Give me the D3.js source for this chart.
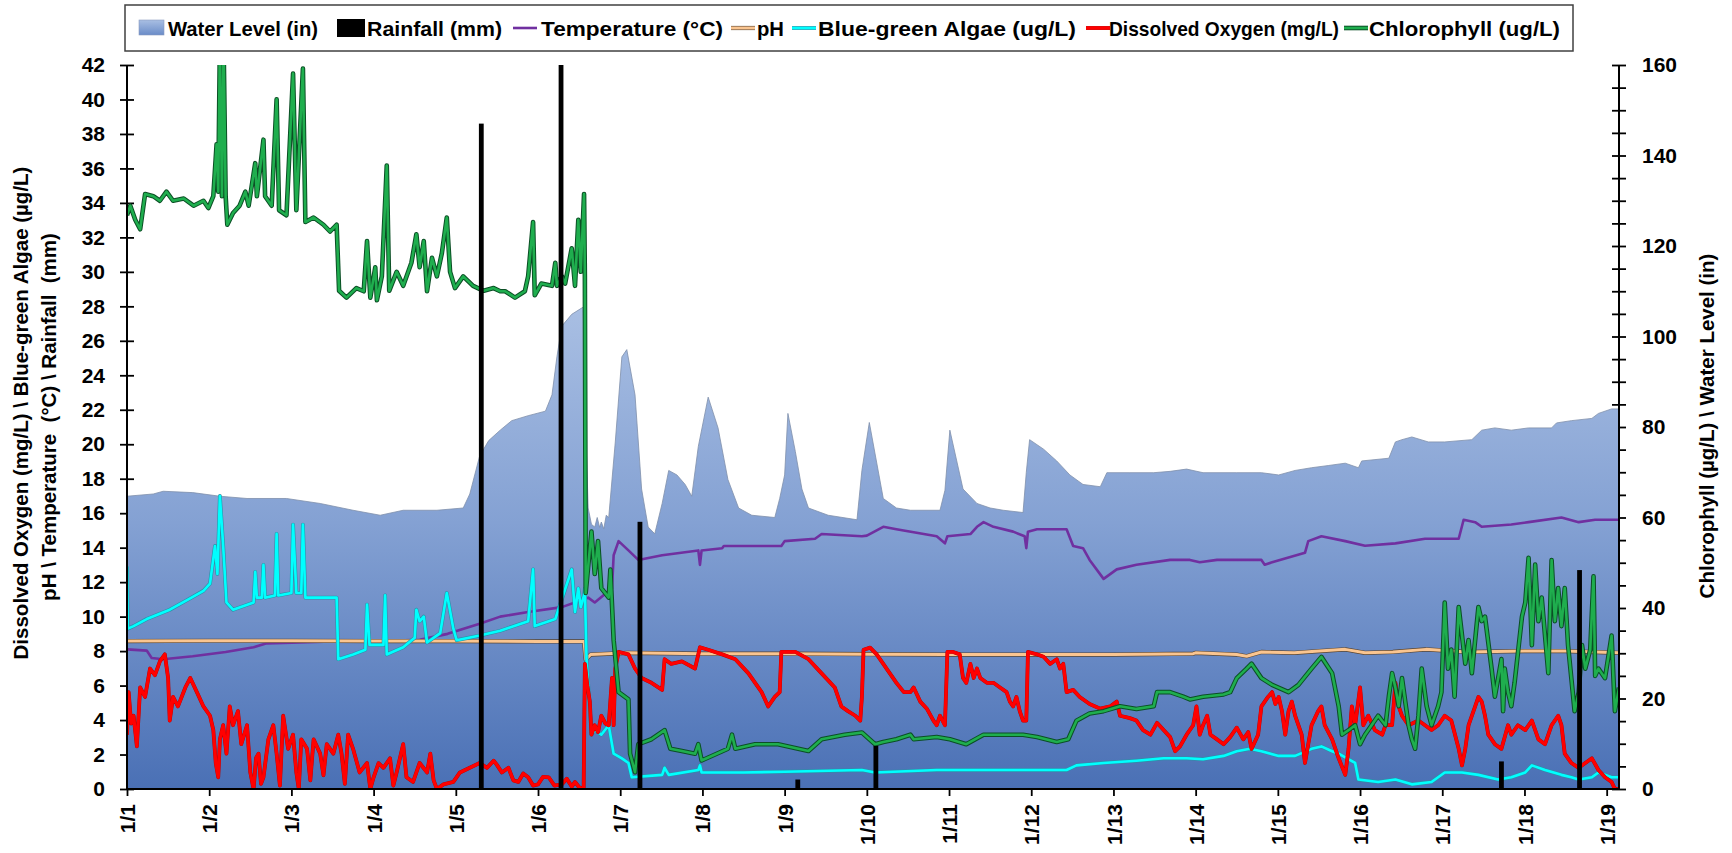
<!DOCTYPE html>
<html>
<head>
<meta charset="utf-8">
<script src="https://cdn.jsdelivr.net/npm/d3@7"></script>
<style>
  html, body { margin: 0; padding: 0; background: #fff; }
  svg { display: block; font-family: "Liberation Sans", Arial, sans-serif; font-weight: bold; }
</style>
</head>
<body>
<svg id="chart" width="1732" height="853"></svg>
<script>
// ---- Data: [day since 1/1, value] ----

// Water level (in), right axis
const waterLevel = [[0,64.7],[0.32,65.2],[0.44,65.8],[0.8,65.5],[1.13,64.7],[1.46,64.2],[1.94,64.2],[2.35,63.1],[2.75,61.6],[3.08,60.5],[3.36,61.6],[3.77,61.6],[4.09,62.1],[4.17,65.2],[4.29,73.6],[4.40,77],[4.54,79.3],[4.68,81.4],[4.88,82.5],[5.09,83.5],[5.17,87.1],[5.23,95.5],[5.29,102.3],[5.41,104.9],[5.55,106.5],[5.58,80],[5.61,62.1],[5.65,58.5],[5.69,57.9],[5.72,60],[5.75,57.8],[5.77,59],[5.80,57.5],[5.83,60.5],[5.86,60],[5.94,76.7],[6.02,95.5],[6.08,97.1],[6.18,87.1],[6.26,66.3],[6.34,57.9],[6.42,56.4],[6.51,63.1],[6.59,70.4],[6.69,69.4],[6.79,67.3],[6.87,64.7],[6.95,75.7],[7.07,86.6],[7.19,79.8],[7.31,68.4],[7.44,62.1],[7.60,60.5],[7.88,60],[7.94,64.2],[8.00,69.4],[8.04,83],[8.13,74.6],[8.21,66.3],[8.29,62.1],[8.53,60.5],[8.88,59.5],[8.94,70.4],[9.03,81],[9.20,64.2],[9.36,62.1],[9.53,61.6],[9.89,61.6],[9.95,66],[10.01,79.3],[10.17,66.3],[10.34,63.1],[10.50,62.1],[10.66,61.6],[10.90,61.1],[10.94,70],[10.98,77.2],[11.15,75.1],[11.31,72.5],[11.47,69.4],[11.63,67.3],[11.84,66.8],[11.92,69.9],[12.20,69.9],[12.49,69.9],[12.69,70.2],[12.89,70.7],[13.09,69.9],[13.50,69.9],[13.80,69.9],[14.01,69.4],[14.21,70.4],[14.41,71],[14.62,71.5],[14.82,72],[14.98,71],[15.02,72.5],[15.35,73.1],[15.43,76.7],[15.51,77.2],[15.63,77.8],[15.83,76.7],[16.03,76.7],[16.36,77.2],[16.48,79.3],[16.64,79.8],[16.84,79.3],[17.05,79.8],[17.33,79.8],[17.39,80.9],[17.57,81.4],[17.82,81.9],[17.90,83],[18.06,84],[18.15,84]];

// Rainfall (mm), left axis
const rainfall = [[4.31,38.6],[5.28,44],[6.24,15.5],[8.16,0.55],[9.11,2.5],[16.72,1.6],[17.67,12.7]];

// Temperature (°C), left axis
const temperature = [[0,8.1],[0.24,8.03],[0.30,7.6],[0.44,7.53],[0.8,7.7],[1.2,7.95],[1.54,8.22],[1.7,8.45],[2.5,8.56],[3.2,8.6],[3.56,8.65],[3.9,9.0],[4.29,9.59],[4.54,10.0],[4.88,10.27],[5.29,10.55],[5.61,11.1],[5.69,10.82],[5.90,11.64],[5.92,13.56],[5.98,14.38],[6.10,13.84],[6.22,13.29],[6.51,13.56],[6.95,13.84],[6.97,13.0],[6.99,13.84],[7.24,13.97],[7.26,14.1],[7.96,14.1],[8.00,14.38],[8.37,14.52],[8.45,14.79],[8.94,14.66],[9.0,14.7],[9.20,15.21],[9.36,15.07],[9.85,14.66],[9.95,14.25],[9.98,14.66],[10.26,14.79],[10.34,15.21],[10.42,15.48],[10.54,15.21],[10.78,14.93],[10.92,14.66],[10.94,13.97],[10.96,14.93],[11.07,15.07],[11.43,15.07],[11.51,14.1],[11.63,13.97],[11.71,13.29],[11.88,12.19],[12.04,12.74],[12.28,13.01],[12.69,13.29],[12.93,13.29],[13.05,13.15],[13.26,13.29],[13.80,13.29],[13.84,13.01],[13.93,13.15],[14.33,13.7],[14.37,14.38],[14.53,14.66],[14.82,14.38],[15.06,14.11],[15.43,14.25],[15.79,14.52],[16.20,14.52],[16.26,15.62],[16.40,15.48],[16.48,15.21],[16.84,15.34],[17.05,15.48],[17.45,15.75],[17.66,15.48],[17.86,15.62],[18.15,15.62]];

// pH, left axis
const pH = [[0,8.58],[1,8.6],[2,8.6],[3,8.58],[4,8.58],[5,8.56],[5.56,8.56],[5.58,7.5],[5.64,7.8],[6.1,7.9],[7,7.85],[8,7.85],[9,7.82],[10,7.8],[11,7.8],[12,7.8],[12.97,7.85],[13.0,7.9],[13.5,7.8],[13.62,7.7],[13.8,7.95],[14.2,7.9],[14.5,8.0],[14.82,8.1],[15.06,7.9],[15.4,7.95],[15.8,8.1],[16.3,7.95],[17.0,8.0],[17.5,8.0],[18.15,7.9]];

// Blue-green algae (ug/L), left axis
const blueGreenAlgae = [[0,12.9],[0.01,9.3],[0.08,9.45],[0.24,9.86],[0.52,10.4],[0.73,10.96],[0.93,11.5],[1.01,11.92],[1.07,14.1],[1.10,12.47],[1.13,17],[1.17,14.1],[1.21,10.82],[1.29,10.4],[1.54,10.82],[1.56,12.6],[1.58,11.1],[1.64,11.1],[1.66,13],[1.68,11.1],[1.80,11.23],[1.82,14.8],[1.84,11.23],[2.00,11.37],[2.02,15.34],[2.06,11.37],[2.12,11.37],[2.14,15.34],[2.17,11.1],[2.35,11.1],[2.55,11.1],[2.57,7.53],[2.75,7.8],[2.90,8.08],[2.92,10.7],[2.95,8.36],[3.12,8.36],[3.14,11.23],[3.16,7.8],[3.36,8.22],[3.50,8.77],[3.52,10.4],[3.56,9.73],[3.61,10],[3.65,8.5],[3.81,9.04],[3.89,11.37],[3.97,9.3],[4.01,8.63],[4.29,8.9],[4.54,9.18],[4.88,9.73],[4.94,12.74],[4.96,9.45],[5.21,9.86],[5.41,12.74],[5.45,10.27],[5.49,11.64],[5.52,10.55],[5.56,11.23],[5.57,11.64],[5.59,7.53],[5.65,3.15],[5.69,3.42],[5.77,3.15],[5.86,3.7],[5.92,2.05],[6.02,1.78],[6.10,1.51],[6.14,0.68],[6.51,0.82],[6.54,1.23],[6.59,0.82],[6.95,1.1],[6.97,1.37],[6.99,0.96],[7.5,0.96],[8.0,1.0],[8.94,1.1],[9.1,0.96],[9.85,1.1],[10.66,1.1],[11.43,1.1],[11.55,1.37],[11.88,1.51],[12.28,1.64],[12.61,1.78],[12.89,1.78],[13.09,1.73],[13.34,1.92],[13.50,2.19],[13.66,2.33],[13.80,2.19],[14.01,1.92],[14.21,1.92],[14.41,2.33],[14.53,2.47],[14.66,2.19],[14.74,2.05],[14.94,1.51],[14.98,0.55],[15.22,0.41],[15.43,0.55],[15.63,0.27],[15.87,0.41],[16.03,0.96],[16.24,0.96],[16.44,0.82],[16.68,0.55],[16.84,0.68],[17.01,0.96],[17.09,1.37],[17.25,1.1],[17.45,0.82],[17.57,0.68],[17.66,0.55],[17.82,0.68],[17.90,0.96],[18.06,0.68],[18.15,0.68]];

// Dissolved oxygen (mg/L), left axis
const dissolvedOxygen = [[0,3.15],[0.02,5.62],[0.05,3.8],[0.08,4.25],[0.12,2.47],[0.16,5.89],[0.22,5.34],[0.28,6.99],[0.34,6.6],[0.40,7.4],[0.46,7.81],[0.50,6.44],[0.52,3.97],[0.56,5.34],[0.62,4.79],[0.71,5.89],[0.77,6.44],[0.85,5.62],[0.93,4.79],[1.01,4.25],[1.05,3.42],[1.08,1.5],[1.11,0.68],[1.13,2.88],[1.17,3.7],[1.21,2.05],[1.25,4.79],[1.29,3.7],[1.35,4.52],[1.39,2.6],[1.46,3.7],[1.50,0.96],[1.54,0],[1.57,1.8],[1.60,2.05],[1.63,0.3],[1.66,0.68],[1.72,2.88],[1.78,3.7],[1.82,2.05],[1.86,0.2],[1.90,4.25],[1.96,2.33],[2.02,3.15],[2.06,0.96],[2.09,0],[2.12,2.88],[2.19,2.33],[2.23,0.5],[2.27,2.88],[2.35,2.05],[2.39,0.8],[2.43,2.6],[2.51,2.05],[2.57,3.15],[2.61,2.05],[2.65,0.3],[2.69,3.15],[2.75,2.33],[2.83,0.96],[2.92,1.51],[2.96,0],[3.00,0.68],[3.06,1.5],[3.12,1.23],[3.20,1.78],[3.24,0.2],[3.28,0.96],[3.36,2.6],[3.40,0.68],[3.48,0.41],[3.56,1.51],[3.65,0.96],[3.69,2.05],[3.73,0.5],[3.77,0],[3.85,0.27],[3.97,0.41],[4.05,0.96],[4.17,1.23],[4.29,1.51],[4.38,1.23],[4.46,1.64],[4.50,1.4],[4.56,0.96],[4.64,1.23],[4.70,0.5],[4.76,0.41],[4.82,0.9],[4.88,0.68],[4.94,0.2],[5.00,0.27],[5.06,0.7],[5.13,0.68],[5.20,0.2],[5.29,0.27],[5.35,0.6],[5.41,0.14],[5.45,0.41],[5.50,0.1],[5.555,0],[5.57,7.26],[5.60,6],[5.63,5.07],[5.65,3.15],[5.69,3.7],[5.73,3.3],[5.77,4.25],[5.82,3.8],[5.86,3.7],[5.90,6.44],[5.92,3.7],[5.94,6.99],[5.98,7.95],[6.10,7.81],[6.18,6.99],[6.26,6.44],[6.38,6.16],[6.51,5.75],[6.54,7.53],[6.62,7.26],[6.75,7.4],[6.91,6.99],[6.97,8.22],[7.07,8.08],[7.24,7.81],[7.40,7.53],[7.56,6.71],[7.72,5.62],[7.80,4.79],[7.88,5.34],[7.94,5.62],[7.96,7.95],[8.13,7.95],[8.29,7.53],[8.45,6.71],[8.61,5.89],[8.69,4.79],[8.77,4.52],[8.86,4.25],[8.92,3.97],[8.94,5.34],[8.96,8.08],[9.04,8.2],[9.12,7.81],[9.20,7.26],[9.28,6.71],[9.36,6.16],[9.45,5.62],[9.53,5.62],[9.57,5.89],[9.65,5.07],[9.73,4.66],[9.81,3.97],[9.85,3.7],[9.89,4.25],[9.95,3.7],[9.98,7.95],[10.05,7.95],[10.13,7.81],[10.17,6.44],[10.21,6.16],[10.26,7.26],[10.30,6.44],[10.34,6.99],[10.38,6.44],[10.46,6.16],[10.54,6.16],[10.62,5.89],[10.70,5.62],[10.74,5.07],[10.78,4.79],[10.82,5.34],[10.86,4.52],[10.90,3.97],[10.94,3.97],[10.96,7.95],[11.07,7.81],[11.15,7.67],[11.23,7.26],[11.31,7.53],[11.35,6.99],[11.39,7.26],[11.43,5.62],[11.51,5.75],[11.59,5.34],[11.71,4.93],[11.84,4.66],[11.96,4.79],[12.04,5.07],[12.08,4.25],[12.20,4.11],[12.28,3.97],[12.36,3.42],[12.45,3.15],[12.53,3.84],[12.61,3.42],[12.69,3.01],[12.75,2.19],[12.81,2.47],[12.89,3.15],[12.97,3.7],[13.01,4.79],[13.05,3.15],[13.09,3.7],[13.14,4.25],[13.18,3.15],[13.26,2.88],[13.34,2.6],[13.42,3.01],[13.50,3.56],[13.58,2.88],[13.64,3.3],[13.68,2.33],[13.76,3.15],[13.80,4.79],[13.88,5.34],[13.93,5.62],[13.97,4.93],[14.01,5.34],[14.05,4.52],[14.09,3.15],[14.13,4.52],[14.17,5.07],[14.21,4.25],[14.25,3.7],[14.29,3.15],[14.33,1.51],[14.41,3.7],[14.49,4.52],[14.53,4.79],[14.57,3.7],[14.66,2.88],[14.74,1.78],[14.82,0.82],[14.86,2.33],[14.90,4.79],[14.94,3.7],[15.00,5.89],[15.04,3.7],[15.10,4.25],[15.18,3.42],[15.27,3.15],[15.31,3.7],[15.39,3.7],[15.43,6.16],[15.47,4.79],[15.51,4.25],[15.59,3.7],[15.71,3.97],[15.79,3.7],[15.87,3.42],[15.95,3.7],[16.03,4.25],[16.11,3.97],[16.20,2.33],[16.24,1.37],[16.28,2.33],[16.32,3.7],[16.40,4.79],[16.44,5.34],[16.48,5.07],[16.52,4.25],[16.56,3.15],[16.64,2.6],[16.72,2.33],[16.80,3.7],[16.84,3.15],[16.92,3.7],[17.01,3.42],[17.09,3.97],[17.17,2.88],[17.25,2.6],[17.33,3.7],[17.41,4.25],[17.45,3.7],[17.49,2.05],[17.57,1.51],[17.66,1.23],[17.74,1.51],[17.82,1.78],[17.90,1.1],[17.98,0.68],[18.06,0.41],[18.10,0],[18.15,0]];

// Chlorophyll (ug/L), right axis
const chlorophyll = [[0,126.8],[0.04,128.9],[0.10,125.8],[0.16,123.7],[0.22,131.5],[0.32,131],[0.40,130],[0.48,132],[0.56,130],[0.69,130.5],[0.81,128.9],[0.93,130],[0.99,128.4],[1.05,131],[1.09,142.5],[1.11,132],[1.13,165],[1.155,131],[1.175,165],[1.20,131],[1.22,124.7],[1.29,127.3],[1.37,128.9],[1.44,132],[1.48,128.9],[1.56,138.3],[1.58,131],[1.66,143.5],[1.68,131],[1.76,128.9],[1.82,152.4],[1.85,127.9],[1.94,126.8],[2.02,158.1],[2.06,127.9],[2.14,159.2],[2.17,125.3],[2.27,126.3],[2.39,124.7],[2.47,123.2],[2.55,124.7],[2.58,110.1],[2.67,108.6],[2.79,110.7],[2.88,110],[2.92,121.1],[2.96,108.6],[3.02,115.3],[3.04,108],[3.10,113.3],[3.16,137.8],[3.19,110.1],[3.28,114.3],[3.36,111.2],[3.46,116.3],[3.52,122.6],[3.56,115.3],[3.61,121.1],[3.65,110],[3.71,117.4],[3.77,113.3],[3.83,118.4],[3.89,126.3],[3.93,114.3],[3.99,110.7],[4.09,113.3],[4.21,111.2],[4.34,110.1],[4.46,110.7],[4.54,110],[4.60,110],[4.72,108.6],[4.84,110],[4.88,113.3],[4.94,125.3],[4.96,109.1],[5.04,111.7],[5.17,111.2],[5.21,116.3],[5.23,111.2],[5.29,113.3],[5.33,111.7],[5.41,119.5],[5.45,111.2],[5.49,125.8],[5.52,114.3],[5.56,131.5],[5.57,113.3],[5.58,43.3],[5.65,56.9],[5.69,47.5],[5.73,54.8],[5.77,44.4],[5.86,42.3],[5.88,48.5],[5.92,32.9],[5.98,21.4],[6.10,19.8],[6.12,7.8],[6.18,3.7],[6.22,9.9],[6.38,11],[6.54,13],[6.61,8.9],[6.75,8.4],[6.91,7.8],[6.95,9.9],[6.99,6.3],[7.31,8.9],[7.36,12],[7.40,8.9],[7.64,9.9],[7.92,9.9],[8.29,8.4],[8.45,11],[8.73,12],[8.94,12.5],[9.10,9.9],[9.20,10.4],[9.36,11],[9.53,12],[9.57,11],[9.85,11.5],[10.01,11],[10.21,9.9],[10.42,12],[10.66,12],[10.90,12],[11.07,11.5],[11.31,10.4],[11.45,11],[11.55,15.1],[11.71,16.7],[11.88,17.2],[12.08,18.3],[12.28,17.7],[12.49,18.3],[12.53,21.4],[12.69,21.4],[12.85,20.4],[12.93,19.8],[13.09,20.4],[13.34,20.9],[13.42,21.4],[13.50,24.5],[13.62,26.6],[13.68,27.7],[13.80,24.5],[13.93,23],[14.13,21.4],[14.25,23],[14.41,26.6],[14.53,29.2],[14.66,25.6],[14.74,18.3],[14.78,12],[14.86,13],[14.94,14.1],[15.00,9.9],[15.06,12],[15.14,14.1],[15.22,16.2],[15.31,14.1],[15.35,20.4],[15.39,25.6],[15.43,22.4],[15.47,18.3],[15.51,24.5],[15.59,14.1],[15.63,11],[15.67,8.9],[15.71,16.2],[15.75,26.6],[15.81,18.3],[15.87,14.1],[15.95,18.3],[15.99,21.4],[16.03,41.2],[16.07,26.6],[16.11,30.8],[16.15,20.4],[16.20,40.2],[16.28,27.7],[16.32,32.9],[16.36,25.6],[16.44,40.2],[16.48,37.1],[16.52,38.1],[16.60,26.6],[16.64,20.4],[16.68,24.5],[16.72,28.7],[16.74,17.2],[16.76,26.6],[16.80,21.4],[16.84,18.3],[16.88,23.5],[16.97,38.1],[17.01,41.2],[17.05,51.1],[17.09,31.8],[17.13,49.6],[17.17,37.1],[17.21,42.3],[17.25,33.9],[17.29,25.6],[17.33,50.6],[17.37,37.1],[17.41,44.4],[17.45,36],[17.49,44.4],[17.53,31.8],[17.57,24.5],[17.61,17.2],[17.66,21.4],[17.70,31.8],[17.74,26.6],[17.80,30.8],[17.84,47],[17.86,25],[17.90,26.6],[17.98,24.5],[18.06,33.9],[18.10,17.2],[18.15,22.4]];

// Axis ticks and labels
const dayTicks = [0,1,2,3,4,5,6,7,8,9,10,11,12,13,14,15,16,17,18];
const dayLabels = ["1/1","1/2","1/3","1/4","1/5","1/6","1/7","1/8","1/9","1/10","1/11","1/12","1/13","1/14","1/15","1/16","1/17","1/18","1/19"];
const leftTicks = [0,2,4,6,8,10,12,14,16,18,20,22,24,26,28,30,32,34,36,38,40,42];
const rightTicks = [0,5,10,15,20,25,30,35,40,45,50,55,60,65,70,75,80,85,90,95,100,105,110,115,120,125,130,135,140,145,150,155,160];
const rightLabels = [0,20,40,60,80,100,120,140,160];

// ---- Layout ----
const FONT = '"Liberation Sans", Arial, sans-serif';
const plotL = 127, plotR = 1619, plotT = 65, plotB = 789;

const svg = d3.select("#chart");
const x = d3.scaleLinear().domain([0, 18.15]).range([plotL, plotR]);
const yL = d3.scaleLinear().domain([0, 42]).range([plotB, plotT]);
const yR = d3.scaleLinear().domain([0, 160]).range([plotB, plotT]);

const defs = svg.append("defs");
const grad = defs.append("linearGradient").attr("id", "wlGrad")
  .attr("gradientUnits", "userSpaceOnUse")
  .attr("x1", 0).attr("x2", 0).attr("y1", yR(107)).attr("y2", yR(0));
grad.append("stop").attr("offset", 0).attr("stop-color", "#a9bfe3");
grad.append("stop").attr("offset", 0.45).attr("stop-color", "#84a1d3");
grad.append("stop").attr("offset", 1).attr("stop-color", "#4a70b5");

const legGrad = defs.append("linearGradient").attr("id", "legGrad")
  .attr("x1", 0).attr("x2", 0).attr("y1", 0).attr("y2", 1);
legGrad.append("stop").attr("offset", 0).attr("stop-color", "#a9bfe3");
legGrad.append("stop").attr("offset", 1).attr("stop-color", "#6a8cc8");

defs.append("clipPath").attr("id", "plotClip").append("rect")
  .attr("x", plotL).attr("y", plotT).attr("width", plotR - plotL).attr("height", plotB - plotT);

function styleText(sel, size) {
  sel.attr("font-family", FONT).attr("font-weight", "bold").attr("font-size", size).attr("fill", "#000");
}

// ---- Axes (tick marks first so the area covers their inner halves) ----
const gLeft = svg.append("g").attr("transform", `translate(${plotL},0)`)
  .call(d3.axisLeft(yL).tickValues(leftTicks).tickSize(7).tickPadding(15).tickFormat(d => d));
gLeft.select(".domain").remove();
gLeft.selectAll(".tick line").attr("x1", 7).attr("stroke", "#000").attr("stroke-width", 1.8);
styleText(gLeft.selectAll(".tick text"), 21);

const gRight = svg.append("g").attr("transform", `translate(${plotR},0)`)
  .call(d3.axisRight(yR).tickValues(rightTicks).tickSize(7).tickPadding(16)
    .tickFormat(d => rightLabels.includes(d) ? d : ""));
gRight.select(".domain").remove();
gRight.selectAll(".tick line").attr("x1", -7).attr("stroke", "#000").attr("stroke-width", 1.8);
styleText(gRight.selectAll(".tick text"), 21);

const gBottom = svg.append("g").attr("transform", `translate(0,${plotB})`)
  .call(d3.axisBottom(x).tickValues(dayTicks).tickSize(7).tickFormat((d, i) => dayLabels[i]));
gBottom.select(".domain").remove();
gBottom.selectAll(".tick line").attr("y1", -7).attr("stroke", "#000").attr("stroke-width", 1.8);
styleText(gBottom.selectAll(".tick text"), 21);
gBottom.selectAll(".tick text")
  .attr("transform", "rotate(-90)")
  .attr("text-anchor", "end")
  .attr("x", -15).attr("y", 0).attr("dy", "0.36em");

// ---- Water level area ----
const area = d3.area().x(d => x(d[0])).y0(yR(0)).y1(d => yR(d[1]));
svg.append("path").datum(waterLevel)
  .attr("clip-path", "url(#plotClip)")
  .attr("d", area)
  .attr("fill", "url(#wlGrad)")
  .attr("stroke", "#7f8fab").attr("stroke-width", 0.8);

// ---- Lines ----
const series = [
  { data: temperature, y: yL, color: "#7030a0", width: 2.6 },
  { data: pH, y: yL, color: "#fac590", width: 3, outline: "#5a4530", outlineWidth: 4.2 },
  { data: blueGreenAlgae, y: yL, color: "#00ffff", width: 2.6, outline: "#2d8fa8", outlineWidth: 3.8 },
  { data: dissolvedOxygen, y: yL, color: "#ff0000", width: 3.2, outline: "#b00000", outlineWidth: 3.8 },
  { data: chlorophyll, y: yR, color: "#1fae4e", width: 2.6, outline: "#0b4f25", outlineWidth: 4.6 }
];
const gLines = svg.append("g").attr("clip-path", "url(#plotClip)");
series.forEach(s => {
  const line = d3.line().x(d => x(d[0])).y(d => s.y(d[1]));
  if (s.outline) {
    gLines.append("path").datum(s.data).attr("d", line)
      .attr("fill", "none").attr("stroke", s.outline).attr("stroke-width", s.outlineWidth)
      .attr("stroke-linejoin", "round");
  }
  gLines.append("path").datum(s.data).attr("d", line)
    .attr("fill", "none").attr("stroke", s.color).attr("stroke-width", s.width)
    .attr("stroke-linejoin", "round");
});

// ---- Rainfall bars ----
svg.append("g").attr("clip-path", "url(#plotClip)")
  .selectAll("rect").data(rainfall).join("rect")
  .attr("x", d => x(d[0]) - 2.4).attr("width", 4.8)
  .attr("y", d => yL(d[1])).attr("height", d => yL(0) - yL(d[1]))
  .attr("fill", "#000");

// ---- Axis lines on top ----
const axisLines = [
  [[plotL, plotT], [plotL, plotB]],
  [[plotR, plotT], [plotR, plotB]],
  [[plotL, plotB], [plotR, plotB]]
];
svg.append("g").selectAll("path").data(axisLines).join("path")
  .attr("d", d => d3.line()(d)).attr("stroke", "#000").attr("stroke-width", 2).attr("fill", "none");

// ---- Axis titles ----
const titles = [
  { text: "Dissolved Oxygen (mg/L) \\ Blue-green Algae (µg/L)", x: 28, y: 413 },
  { text: "pH \\ Temperature  (°C) \\ Rainfall  (mm)", x: 56, y: 417 },
  { text: "Chlorophyll (µg/L) \\ Water Level (in)", x: 1714, y: 426 }
];
svg.append("g").selectAll("text").data(titles).join("text")
  .attr("transform", d => `translate(${d.x},${d.y}) rotate(-90)`)
  .attr("text-anchor", "middle")
  .style("white-space", "pre")
  .text(d => d.text)
  .call(sel => styleText(sel, 20.5));

// ---- Legend ----
const gLeg = svg.append("g");
gLeg.append("rect").attr("x", 125).attr("y", 5).attr("width", 1448).attr("height", 46)
  .attr("fill", "#fff").attr("stroke", "#404040").attr("stroke-width", 1.5);
const legendItems = [
  { label: "Water Level (in)", kind: "area", sx: 139, tx: 168, w: 150 },
  { label: "Rainfall (mm)", kind: "bar", sx: 337, tx: 367, w: 135 },
  { label: "Temperature (°C)", kind: "line", sx: 513, tx: 541, w: 182, s: series[0] },
  { label: "pH", kind: "line", sx: 731, tx: 757, w: 27, s: series[1] },
  { label: "Blue-green Algae (ug/L)", kind: "line", sx: 792, tx: 818, w: 258, s: series[2] },
  { label: "Dissolved Oxygen (mg/L)", kind: "line", sx: 1086, tx: 1109, w: 230, s: series[3] },
  { label: "Chlorophyll (ug/L)", kind: "line", sx: 1344, tx: 1369, w: 191, s: series[4] }
];
const legY = 28;
legendItems.forEach(it => {
  if (it.kind === "area") {
    gLeg.append("rect").attr("x", it.sx).attr("y", legY - 8).attr("width", 25).attr("height", 15)
      .attr("fill", "url(#legGrad)").attr("stroke", "#8a9cc0").attr("stroke-width", 0.6);
  } else if (it.kind === "bar") {
    gLeg.append("rect").attr("x", it.sx).attr("y", legY - 9).attr("width", 28).attr("height", 18)
      .attr("fill", "#000");
  } else {
    if (it.s.outline) {
      gLeg.append("line").attr("x1", it.sx).attr("x2", it.sx + 24).attr("y1", legY).attr("y2", legY)
        .attr("stroke", it.s.outline).attr("stroke-width", it.s.outlineWidth);
    }
    gLeg.append("line").attr("x1", it.sx).attr("x2", it.sx + 24).attr("y1", legY).attr("y2", legY)
      .attr("stroke", it.s.color).attr("stroke-width", it.s.width);
  }
  gLeg.append("text").attr("x", it.tx).attr("y", legY).attr("dy", "0.36em")
    .attr("textLength", it.w).attr("lengthAdjust", "spacingAndGlyphs")
    .text(it.label).call(sel => styleText(sel, 21));
});
</script>
</body>
</html>
